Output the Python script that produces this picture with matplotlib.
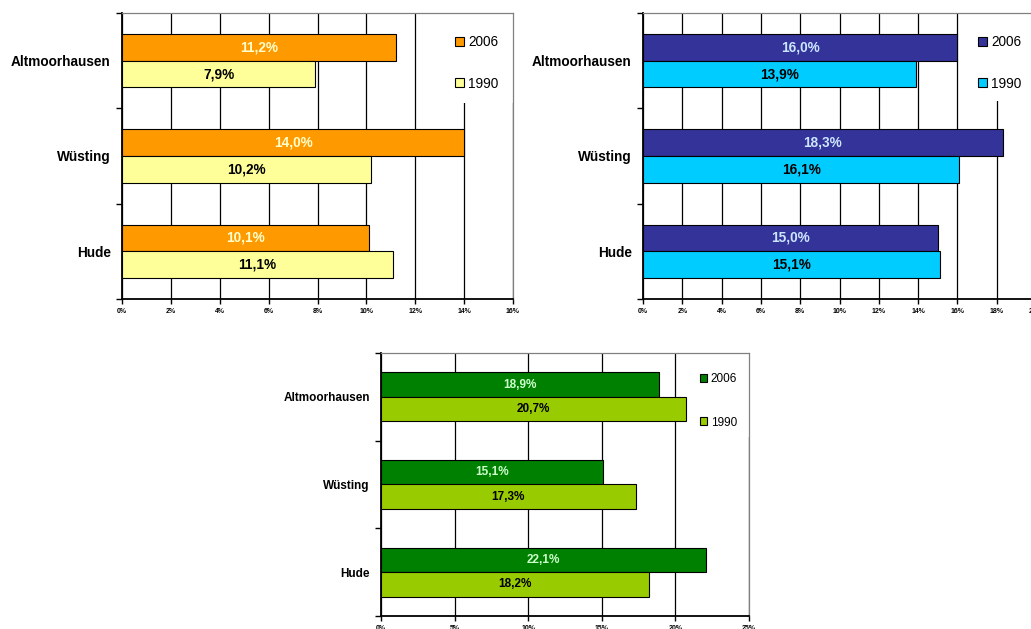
import matplotlib
matplotlib.use("Agg")
import matplotlib.pyplot as plt
from matplotlib.patches import Patch, Rectangle
from matplotlib.ticker import FixedLocator

plt.rcParams['font.family'] = ['Liberation Sans', 'DejaVu Sans']

places = ['Altmoorhausen', 'Wüsting', 'Hude']
years = ['2006', '1990']

orange_2006 = [11.2, 14.0, 10.1]
orange_1990 = [7.9, 10.2, 11.1]
blue_2006 = [16.0, 18.3, 15.0]
blue_1990 = [13.9, 16.1, 15.1]
green_2006 = [18.9, 15.1, 22.1]
green_1990 = [20.7, 17.3, 18.2]

W, H = 1031, 629


def fmt(v):
    return f"{v:.1f}%".replace('.', ',')


def draw_panel(ax, v_new, v_old, c_new, c_old, txt_new, xmax, step, fs, lspace, box):
    bh = 0.28
    pos = [len(places) - 1 - i for i in range(len(places))]
    ax.barh(pos, v_new, height=bh, align='edge', color=c_new,
            edgecolor='black', linewidth=0.8, zorder=3)
    ax.barh([p - bh for p in pos], v_old, height=bh, align='edge', color=c_old,
            edgecolor='black', linewidth=0.8, zorder=3)
    for p, a, b in zip(pos, v_new, v_old):
        ax.text(a / 2, p + bh / 2, fmt(a), ha='center', va='center',
                fontsize=fs, fontweight='bold', color=txt_new, zorder=4)
        ax.text(b / 2, p - bh / 2, fmt(b), ha='center', va='center',
                fontsize=fs, fontweight='bold', color='black', zorder=4)

    ax.set_xlim(0, xmax)
    ax.set_ylim(-0.5, len(places) - 0.5)
    ticks = list(range(0, xmax + 1, step))
    ax.set_xticks(ticks)
    ax.set_xticklabels([f"{t}%" for t in ticks], fontsize=5, fontweight='bold')
    ax.tick_params(axis='x', length=3.5, width=1, pad=3)
    ax.xaxis.grid(True, color='black', linewidth=0.9)
    ax.set_axisbelow(True)

    ax.yaxis.set_major_locator(FixedLocator([-0.5, 0.5, 1.5, 2.5]))
    ax.set_yticklabels([])
    ax.set_yticks(pos, places, minor=True)
    ax.tick_params(axis='y', which='major', length=4, width=1)
    ax.tick_params(axis='y', which='minor', length=0, pad=8)
    for lab in ax.get_yticklabels(minor=True):
        lab.set_fontsize(fs)
        lab.set_fontweight('bold')

    for s in ['top', 'right']:
        ax.spines[s].set_color('#808080')
        ax.spines[s].set_linewidth(0.9)
    for s in ['left', 'bottom']:
        ax.spines[s].set_color('black')
        ax.spines[s].set_linewidth(1.3)

    bb = ax.get_position()
    wpx, hpx = bb.width * W, bb.height * H
    # white area behind the legend hides the gridlines there
    bw, bhgt = box
    ax.add_patch(Rectangle((1 - bw / wpx, 1 - bhgt / hpx), bw / wpx, bhgt / hpx,
                           transform=ax.transAxes, facecolor='white',
                           edgecolor='none', zorder=1, clip_on=False))

    handles = [Patch(facecolor=c_new, edgecolor='black', linewidth=0.8),
               Patch(facecolor=c_old, edgecolor='black', linewidth=0.8)]
    ax.legend(handles, years, loc='upper right',
              bbox_to_anchor=(1 + 6 / wpx, 1 - 2 / hpx),
              borderaxespad=0, frameon=False,
              fontsize=fs, handlelength=0.65, handleheight=0.65,
              handletextpad=0.3, labelspacing=lspace, borderpad=1.5)


fig = plt.figure(figsize=(10.31, 6.29), dpi=100)

ax1 = fig.add_axes([122 / W, 1 - 299 / H, 391 / W, 286 / H])
draw_panel(ax1, orange_2006, orange_1990, '#FF9900', '#FFFF99', '#FFFFCC',
           16, 2, 9.8, 2.0, (63, 90))

ax2 = fig.add_axes([643 / W, 1 - 299 / H, 393 / W, 286 / H])
draw_panel(ax2, blue_2006, blue_1990, '#333399', '#00CCFF', '#CCE5FF',
           20, 2, 9.8, 2.0, (63, 88))

ax3 = fig.add_axes([381 / W, 1 - 616 / H, 368 / W, 263 / H])
draw_panel(ax3, green_2006, green_1990, '#008000', '#99CC00', '#CCFFCC',
           25, 5, 8.5, 2.7, (58, 84))

fig.savefig("out.png", dpi=100)
plt.close(fig)
